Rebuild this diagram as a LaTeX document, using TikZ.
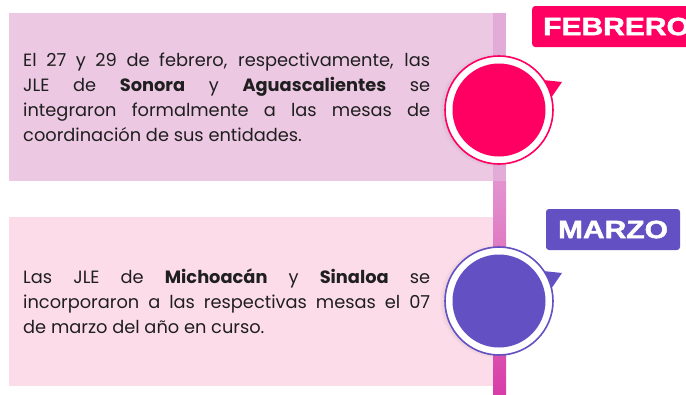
\documentclass[tikz,border=0pt]{standalone}
\usepackage{fontspec}
\setmainfont{Poppins}
\newfontfamily\labfont{Liberation Sans}[BoldFeatures={FakeBold=1.6}]
\usetikzlibrary{shadows}
\definecolor{boxA}{HTML}{EDC8E3}
\definecolor{boxB}{HTML}{FDDCEA}
\definecolor{febc}{HTML}{FF0062}
\definecolor{marc}{HTML}{6350C2}
\definecolor{lineIn}{HTML}{E3ACD8}
\definecolor{lineTop}{HTML}{E394D0}
\definecolor{lineBot}{HTML}{D83DA8}
\begin{document}
\begin{tikzpicture}[x=1pt,y=-1pt,
  card/.style={rectangle, inner sep=0pt, anchor=north west},
  txt/.style={inner sep=0pt, anchor=base west, text width=407pt, align=justify,
    font=\fontsize{17.8}{25}\selectfont, text=black!88},
  ring/.style={circle, inner sep=0pt, minimum size=108pt, fill=white, line width=1.6pt,
    circular drop shadow={shadow xshift=-3pt, shadow yshift=0pt, shadow scale=1.05, opacity=0.3}},
  dot/.style={circle, inner sep=0pt, minimum size=93pt},
  tag/.style={rectangle, rounded corners=3pt, inner xsep=11pt, minimum height=41pt, text=white,
    font=\labfont\bfseries\fontsize{25}{25}\selectfont}
]
\useasboundingbox (0,0) rectangle (686,394);
\clip (0,0) rectangle (686,394);
\fill[white] (0,0) rectangle (686,394);

% cards
\node[card, fill=boxA, minimum width=497pt, minimum height=168pt] (cardA) at (9,13) {};
\node[card, fill=boxB, minimum width=484pt, minimum height=169pt] (cardB) at (9,217) {};

% timeline
\fill[lineIn] (493,13) rectangle (506,181);
\shade[top color=lineTop, bottom color=lineBot] (493,181) rectangle (506,394);

% texts
\node[txt] (txtA) at (23,66) {El 27 y 29 de febrero, respectivamente, las\linebreak
JLE de \textbf{Sonora} y \textbf{Aguascalientes} se\linebreak
integraron formalmente a las mesas de\linebreak
coordinación de sus entidades.};
\node[txt] (txtB) at (23,283) {Las JLE de \textbf{Michoacán} y \textbf{Sinaloa} se\linebreak
incorporaron a las respectivas mesas el 07\linebreak
de marzo del año en curso.};

% markers
\fill[febc] (543,80) -- (562,82) -- (551,98) -- cycle;
\node[ring, draw=febc] (ringA) at (499,110) {};
\node[dot, fill=febc] (dotA) at (ringA.center) {};

\fill[marc] (543,271) -- (562,273) -- (551,289) -- cycle;
\node[ring, draw=marc] (ringB) at (499,301) {};
\node[dot, fill=marc] (dotB) at (ringB.center) {};

% tags
\node[tag, fill=febc, anchor=west] (tagA) at (532,26.5) {\scalebox{1.2}[1]{FEBRERO}};
\node[tag, fill=marc, minimum width=134pt] (tagB) at (613,229.5) {\scalebox{1.2}[1]{MARZO}};
\end{tikzpicture}
\end{document}
